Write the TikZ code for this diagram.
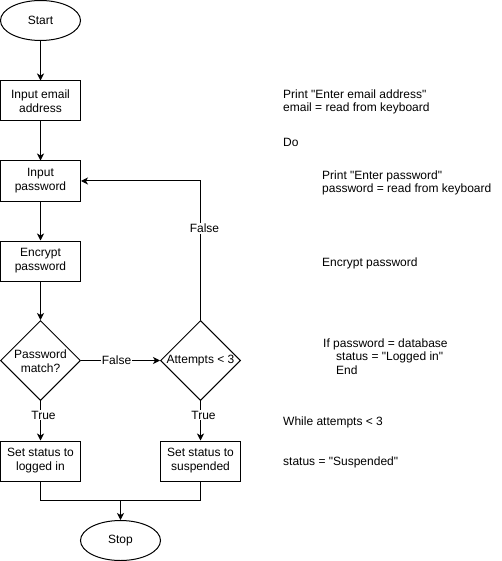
\documentclass[tikz,border=0pt]{standalone}
\usepackage{fontspec}
\setmainfont{Liberation Sans}[Ligatures=TeXOff]
\usetikzlibrary{shapes.geometric,arrows.meta}
\begin{document}
\begin{tikzpicture}[x=1pt,y=-1pt,
  every node/.style={font=\fontsize{12}{14}\selectfont},
  term/.style={draw,ellipse,line width=1pt,minimum width=80pt,minimum height=40pt,inner sep=0pt},
  proc/.style={draw,rectangle,line width=1pt,minimum width=80pt,minimum height=40pt,inner sep=0pt,align=center},
  dia/.style={draw,diamond,line width=1pt,minimum width=80pt,minimum height=80pt,inner sep=0pt},
  txt/.style={inner sep=0pt,align=center},
  lbl/.style={fill=white,inner sep=1pt},
  code/.style={anchor=base west,inner sep=0pt},
  arr/.style={line width=1pt,-{Stealth[length=7pt,width=7pt,inset=2pt]}},
  ln/.style={line width=1pt}]
\useasboundingbox (0,0) rectangle (501,561);
% nodes
\node[term] (start) at (40.5,20.5) {Start};
\node[proc] (email) at (40.5,101) {Input email\\address};
\node[proc] (pw) at (40.5,181) {Input\\password};
\node[proc] (enc) at (40.5,261) {Encrypt\\password};
\node[dia] (d1) at (40.5,360.5) {};
\node[txt] (d1t) at (40.5,361) {Password\\match?};
\node[dia] (d2) at (200.5,360.5) {};
\node[txt] (d2t) at (200.5,360.5) {Attempts {<} 3};
\node[proc] (li) at (40.5,461) {Set status to\\logged in};
\node[proc] (su) at (200.5,461) {Set status to\\suspended};
\node[term] (stop) at (120.5,540.5) {Stop};
\coordinate (j) at (120.5,500.5);
% connectors
\draw[arr] (start) -- (email);
\draw[arr] (email) -- (pw);
\draw[arr] (pw) -- (enc);
\draw[arr] (enc) -- (d1.north);
\draw[arr] (d1.east) -- node[lbl,pos=0.45] (lf1) {False} (d2.west);
\draw[arr] (d1.south) -- node[lbl,pos=0.36,xshift=3pt] (lt1) {True} (li.north);
\draw[arr] (d2.south) -- node[lbl,pos=0.36,xshift=3pt] (lt2) {True} (su.north);
\draw[arr] (d2.north) |- node[lbl,pos=0.33,xshift=4pt] (lf2) {False} (pw.east);
\draw[ln] (li.south) |- (j);
\draw[ln] (su.south) |- (j);
\draw[arr] (j) -- (stop.north);
% pseudo code
\node[code] (c1) at (283,99) {Print "Enter email address"};
\node[code] (c2) at (283,112) {email = read from keyboard};
\node[code] (c3) at (283,147) {Do};
\node[code] (c4) at (322,180) {Print "Enter password"};
\node[code] (c5) at (322,193) {password = read from keyboard};
\node[code] (c6) at (322,266) {Encrypt password};
\node[code] (c7) at (323,347) {If password = database};
\node[code] (c8) at (336,360) {status = "Logged in"};
\node[code] (c9) at (336,374) {End};
\node[code] (c10) at (283,425) {While attempts {<} 3};
\node[code] (c11) at (283,465) {status = "Suspended"};
\end{tikzpicture}
\end{document}
